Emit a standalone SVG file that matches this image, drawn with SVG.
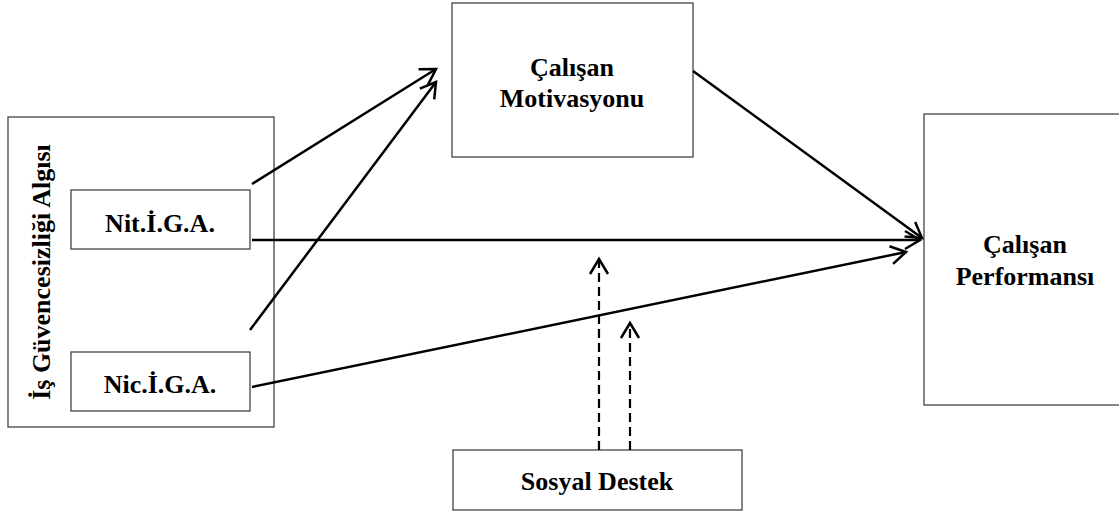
<svg xmlns="http://www.w3.org/2000/svg" width="1119" height="511" viewBox="0 0 1119 511">
<style>
.box{fill:#fff;stroke:#444;stroke-width:1.3}
.t{font-family:"Liberation Serif","Times New Roman",serif;font-weight:bold;font-size:26px;fill:#000;text-anchor:middle}
.c{fill:none;stroke:#000;stroke-width:2.5}
.d{fill:none;stroke:#000;stroke-width:2.2;stroke-dasharray:9 5}
</style>
<defs>
<marker id="ah" markerUnits="userSpaceOnUse" markerWidth="30" markerHeight="30" refX="0" refY="0" viewBox="-20 -15 30 30" orient="auto" overflow="visible">
<path d="M-15,-9 L0,0 L-15,9" fill="none" stroke="#000" stroke-width="2.5"/>
</marker>
</defs>
<rect width="1119" height="511" fill="#fff"/>
<g id="is-guvencesizligi">
<rect class="box" x="8" y="117" width="266" height="310"/>
<text class="t" transform="translate(50,272) rotate(-90)">İş Güvencesizliği Algısı</text>
</g>
<g id="nit">
<rect class="box" x="71" y="190" width="179" height="59"/>
<text class="t" x="160" y="232">Nit.İ.G.A.</text>
</g>
<g id="nic">
<rect class="box" x="71" y="352" width="179" height="59"/>
<text class="t" x="160" y="393">Nic.İ.G.A.</text>
</g>
<g id="motivasyon">
<rect class="box" x="452" y="3" width="241" height="154"/>
<text class="t" x="572" y="76">Çalışan</text>
<text class="t" x="572" y="107">Motivasyonu</text>
</g>
<g id="performans">
<rect class="box" x="924" y="114" width="210" height="291"/>
<text class="t" x="1025" y="253">Çalışan</text>
<text class="t" x="1025" y="285">Performansı</text>
</g>
<g id="sosyal-destek">
<rect class="box" x="453" y="450" width="289" height="60"/>
<text class="t" x="597" y="490">Sosyal Destek</text>
</g>
<g id="connectors">
<line class="c" x1="252" y1="184" x2="436" y2="69" marker-end="url(#ah)"/>
<line class="c" x1="250" y1="330" x2="436" y2="82" marker-end="url(#ah)"/>
<line class="c" x1="693" y1="71" x2="922" y2="238" marker-end="url(#ah)"/>
<line class="c" x1="252" y1="240" x2="920" y2="240" marker-end="url(#ah)"/>
<line class="c" x1="252" y1="387" x2="906" y2="252" marker-end="url(#ah)"/>
<line class="d" x1="599" y1="450" x2="599" y2="259" marker-end="url(#ah)"/>
<line class="d" x1="630" y1="450" x2="630" y2="323" marker-end="url(#ah)"/>
</g>
</svg>
